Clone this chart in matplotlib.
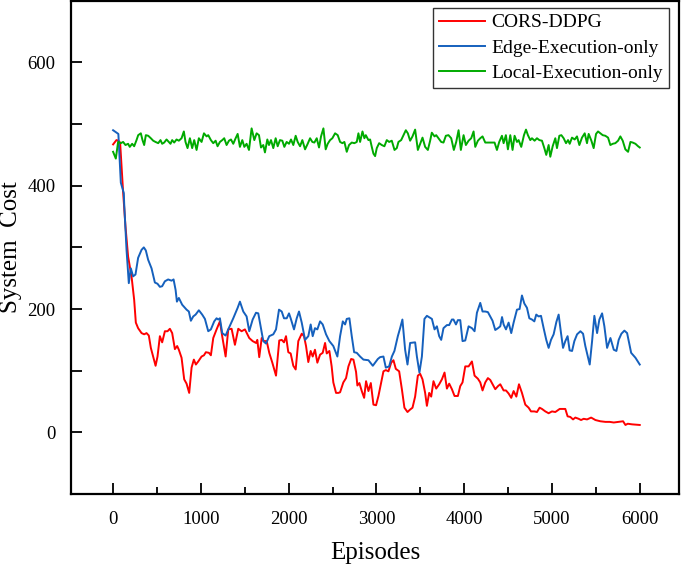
import matplotlib
matplotlib.use("Agg")
import matplotlib.pyplot as plt
from matplotlib.ticker import MultipleLocator

plt.rcParams['font.family'] = ['Liberation Serif', 'DejaVu Serif']

# ---------------- data ----------------
red_ep = [0, 38, 60, 80, 114, 141, 171, 210, 240, 259, 285, 324, 354, 381, 407, 430, 456, 484, 506, 533,
          559, 590, 620, 647, 673, 704, 730, 749, 780, 810, 837, 867, 894, 920, 943, 970, 1008, 1035, 1057, 1092,
          1114, 1141, 1179, 1217, 1243, 1282, 1312, 1350, 1388, 1426, 1464, 1502, 1551, 1590, 1628, 1643, 1665, 1693, 1719, 1750,
          1779, 1814, 1856, 1893, 1921, 1947, 1970, 1996, 2023, 2053, 2080, 2110, 2149, 2175, 2198, 2224, 2251, 2274, 2300, 2327,
          2358, 2388, 2415, 2434, 2464, 2490, 2509, 2540, 2566, 2586, 2623, 2654, 2681, 2712, 2738, 2768, 2783, 2806, 2833, 2860,
          2882, 2909, 2936, 2966, 2996, 3023, 3053, 3080, 3107, 3137, 3168, 3194, 3221, 3259, 3290, 3319, 3354, 3384, 3411, 3441,
          3472, 3498, 3525, 3555, 3575, 3601, 3624, 3650, 3681, 3715, 3746, 3776, 3803, 3829, 3860, 3890, 3928, 3955, 3981, 4012,
          4050, 4088, 4118, 4156, 4183, 4209, 4240, 4270, 4297, 4323, 4354, 4385, 4411, 4449, 4476, 4506, 4536, 4563, 4594, 4624,
          4658, 4696, 4734, 4761, 4799, 4829, 4859, 4886, 4924, 4962, 5000, 5038, 5088, 5133, 5152, 5178, 5209, 5240, 5266, 5304,
          5331, 5361, 5400, 5446, 5495, 5551, 5609, 5658, 5704, 5760, 5810, 5837, 5863, 5913, 6000]
red_cost = [467, 474, 473, 470, 390, 334, 285, 253, 215, 178, 169, 161, 159, 161, 157, 137, 123, 108, 123, 156,
            146, 164, 164, 168, 161, 135, 140, 134, 121, 86, 79, 64, 105, 118, 110, 115, 123, 125, 130, 129,
            125, 153, 167, 180, 156, 123, 167, 168, 142, 168, 164, 167, 153, 148, 145, 150, 122, 153, 148, 148,
            129, 113, 92, 149, 150, 146, 156, 130, 128, 108, 102, 148, 160, 156, 140, 114, 132, 123, 134, 113,
            126, 129, 145, 128, 132, 107, 81, 64, 64, 65, 81, 88, 107, 119, 118, 98, 76, 80, 67, 56,
            83, 67, 80, 45, 44, 59, 80, 99, 101, 99, 113, 117, 103, 99, 70, 40, 33, 37, 40, 58,
            92, 95, 86, 64, 43, 64, 58, 83, 71, 78, 86, 97, 71, 79, 70, 59, 59, 75, 81, 107,
            107, 115, 92, 87, 81, 68, 81, 88, 85, 78, 70, 75, 78, 68, 68, 63, 56, 67, 58, 78,
            64, 45, 40, 34, 34, 33, 40, 38, 34, 31, 34, 33, 38, 38, 38, 26, 25, 21, 24, 22,
            20, 22, 21, 24, 20, 18, 17, 17, 16, 17, 18, 12, 14, 13, 12]

blue_ep = [0, 60, 88, 122, 126, 153, 179, 202, 228, 255, 285, 324, 350, 373, 399, 438, 476, 506, 533, 559,
           590, 627, 666, 689, 712, 727, 749, 787, 837, 863, 886, 913, 940, 977, 1015, 1046, 1084, 1114, 1152, 1179,
           1198, 1217, 1243, 1282, 1312, 1369, 1419, 1445, 1483, 1521, 1551, 1590, 1628, 1654, 1681, 1711, 1742, 1779, 1825, 1856,
           1890, 1921, 1947, 1978, 2004, 2023, 2061, 2092, 2118, 2149, 2187, 2224, 2251, 2274, 2300, 2327, 2358, 2388, 2426, 2464,
           2509, 2555, 2586, 2617, 2643, 2662, 2692, 2719, 2746, 2776, 2814, 2852, 2909, 2959, 2985, 3016, 3042, 3080, 3107, 3145,
           3176, 3205, 3244, 3270, 3296, 3327, 3354, 3384, 3441, 3461, 3490, 3518, 3547, 3575, 3632, 3662, 3689, 3715, 3738, 3764,
           3803, 3829, 3860, 3878, 3906, 3928, 3955, 3981, 4012, 4050, 4088, 4118, 4145, 4183, 4209, 4240, 4270, 4297, 4323, 4354,
           4385, 4411, 4431, 4449, 4476, 4506, 4536, 4563, 4601, 4631, 4658, 4685, 4715, 4742, 4772, 4799, 4821, 4848, 4875, 4905,
           4935, 4962, 4989, 5019, 5050, 5076, 5103, 5126, 5152, 5178, 5201, 5229, 5255, 5286, 5324, 5354, 5380, 5430, 5457, 5483,
           5514, 5540, 5571, 5597, 5628, 5666, 5704, 5734, 5760, 5791, 5825, 5856, 5902, 5951, 6000]
blue_cost = [490, 484, 405, 388, 372, 296, 242, 266, 253, 256, 283, 296, 300, 295, 280, 266, 243, 241, 236, 237,
             245, 248, 246, 248, 231, 212, 218, 207, 199, 196, 181, 188, 191, 198, 191, 184, 164, 167, 180, 185,
             183, 185, 161, 157, 167, 185, 202, 212, 196, 188, 164, 183, 194, 193, 172, 148, 144, 156, 159, 167,
             199, 196, 185, 185, 193, 185, 167, 185, 196, 178, 150, 156, 175, 156, 169, 167, 180, 175, 159, 148,
             140, 123, 156, 180, 175, 184, 185, 156, 130, 129, 123, 118, 117, 108, 113, 119, 122, 123, 105, 107,
             123, 132, 156, 169, 183, 134, 110, 145, 146, 123, 97, 123, 184, 189, 184, 167, 172, 156, 150, 169,
             174, 174, 183, 183, 175, 182, 182, 148, 149, 172, 169, 164, 194, 210, 196, 196, 195, 188, 181, 166,
             169, 172, 187, 175, 167, 178, 161, 178, 199, 200, 222, 209, 202, 185, 183, 180, 191, 188, 189, 169,
             150, 137, 150, 159, 179, 191, 161, 137, 148, 156, 133, 132, 148, 159, 164, 160, 140, 110, 148, 189,
             161, 183, 193, 172, 137, 153, 134, 132, 150, 160, 165, 161, 129, 121, 110]

green_ep = [0, 31, 57, 88, 114, 141, 171, 190, 217, 240, 267, 286, 316, 335, 354, 373, 400, 430, 457, 483,
            514, 540, 559, 582, 609, 635, 654, 673, 696, 723, 749, 780, 806, 825, 848, 875, 901, 924, 951, 977,
            1008, 1035, 1065, 1084, 1114, 1141, 1168, 1190, 1217, 1244, 1266, 1293, 1320, 1343, 1369, 1396, 1419, 1445, 1472, 1495,
            1521, 1548, 1578, 1609, 1635, 1662, 1685, 1711, 1730, 1757, 1776, 1799, 1825, 1852, 1875, 1901, 1928, 1951, 1977, 2004,
            2027, 2053, 2080, 2103, 2130, 2156, 2187, 2217, 2244, 2270, 2293, 2320, 2346, 2369, 2396, 2422, 2445, 2472, 2498, 2529,
            2559, 2586, 2612, 2635, 2662, 2688, 2719, 2749, 2776, 2795, 2814, 2841, 2863, 2879, 2909, 2928, 2947, 2966,
            2985, 3004, 3031, 3061, 3091, 3118, 3145, 3175, 3206, 3232, 3251, 3282, 3308, 3335, 3358, 3384, 3411, 3441, 3472, 3498,
            3525, 3555, 3586, 3612, 3631, 3662, 3681, 3707, 3738, 3764, 3791, 3821, 3852, 3882, 3909, 3936, 3962, 3993, 4019, 4050,
            4080, 4107, 4126, 4156, 4183, 4209, 4240, 4278, 4316, 4346, 4373, 4399, 4430, 4449, 4475, 4498, 4525, 4551, 4574, 4601,
            4620, 4650, 4681, 4704, 4726, 4753, 4772, 4802, 4829, 4856, 4886, 4913, 4935, 4962, 4981, 5008, 5038, 5057, 5084, 5107,
            5133, 5160, 5183, 5202, 5228, 5259, 5285, 5312, 5342, 5373, 5399, 5418, 5449, 5475, 5502, 5525, 5551, 5578, 5608, 5639,
            5665, 5692, 5722, 5753, 5779, 5806, 5836, 5867, 5894, 5920, 5951, 5981, 6000]
green_cost = [455, 444, 471, 469, 471, 466, 468, 463, 468, 464, 474, 482, 485, 474, 466, 482, 481, 477, 473, 471,
              469, 474, 468, 470, 475, 471, 468, 474, 470, 475, 473, 477, 488, 471, 461, 477, 461, 474, 458, 477,
              471, 485, 480, 482, 474, 469, 473, 464, 471, 474, 477, 466, 473, 475, 468, 477, 484, 463, 474, 463,
              468, 458, 493, 474, 485, 482, 462, 466, 454, 475, 466, 474, 461, 477, 464, 474, 473, 463, 471, 468,
              475, 466, 481, 471, 464, 474, 459, 468, 477, 471, 470, 477, 462, 480, 493, 459, 468, 474, 477, 485,
              482, 471, 469, 471, 455, 466, 470, 469, 471, 485, 471, 488, 477, 482, 474, 475, 463, 452,
              448, 461, 469, 466, 464, 474, 471, 473, 458, 461, 471, 474, 482, 490, 485, 473, 480, 491, 458, 468,
              478, 463, 458, 473, 486, 480, 482, 477, 471, 470, 481, 482, 477, 458, 471, 490, 458, 482, 466, 473,
              477, 488, 463, 473, 477, 480, 470, 470, 470, 470, 458, 471, 481, 469, 482, 459, 482, 458, 481, 471,
              474, 463, 482, 491, 482, 474, 477, 473, 477, 474, 473, 461, 450, 466, 447, 464, 477, 461, 481, 482,
              477, 469, 474, 468, 478, 475, 480, 466, 478, 485, 469, 484, 473, 461, 484, 488, 485, 482, 481, 478,
              466, 468, 469, 473, 480, 473, 459, 455, 471, 470, 468, 464, 462]

labels = ['CORS-DDPG', 'Edge-Execution-only', 'Local-Execution-only']
colors = ['#FF0000', '#1560BD', '#00AA00']

# ---------------- figure ----------------
fig = plt.figure(figsize=(6.85, 5.67), dpi=100)
ax = fig.add_axes([0.1036, 0.1287, 0.888, 0.870])

ax.plot(red_ep, red_cost, color=colors[0], lw=1.4, label=labels[0])
ax.plot(blue_ep, blue_cost, color=colors[1], lw=1.4, label=labels[1])
ax.plot(green_ep, green_cost, color=colors[2], lw=1.4, label=labels[2])

ax.set_xlim(-480, 6450)
ax.set_ylim(-100, 700)
ax.xaxis.set_major_locator(MultipleLocator(1000))
ax.xaxis.set_minor_locator(MultipleLocator(500))
ax.yaxis.set_minor_locator(MultipleLocator(100))
ax.set_yticks([0, 200, 400, 600])

ax.tick_params(axis='x', which='major', direction='in', length=8, width=1.3, labelsize=13.5, pad=12)
ax.tick_params(axis='x', which='minor', direction='in', length=5, width=1.3)
ax.tick_params(axis='y', which='major', direction='in', length=8, width=1.3, labelsize=13.5, pad=11)
ax.tick_params(axis='y', which='minor', direction='in', length=8, width=1.3)
ax.tick_params(top=False, right=False, which='both')

for s in ax.spines.values():
    s.set_linewidth(1.6)

ax.set_xlabel('Episodes', fontsize=18, labelpad=10)
fig.text(11 / 685, 0.565, 'System  Cost', fontsize=18, rotation=90, ha='center', va='center')

leg = ax.legend(loc='upper right', bbox_to_anchor=(0.9825, 0.9855), fontsize=14, frameon=True,
                fancybox=False, edgecolor='#333333', framealpha=1, handlelength=2.4,
                labelspacing=0.4, borderpad=0.3, handletextpad=0.3, borderaxespad=0)
leg.get_frame().set_linewidth(1.0)

fig.savefig('out.png', dpi=100)
